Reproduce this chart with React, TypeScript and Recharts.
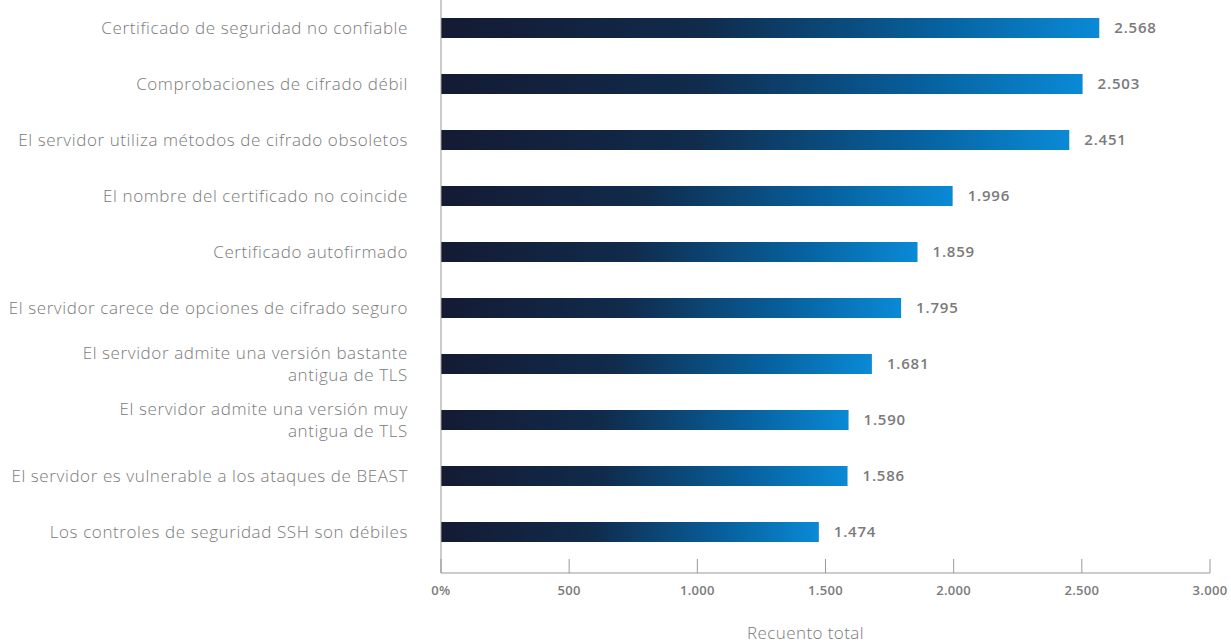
import { Bar, BarChart, LabelList, XAxis, YAxis } from 'recharts'

const categories = [
  'Certificado de seguridad no confiable',
  'Comprobaciones de cifrado débil',
  'El servidor utiliza métodos de cifrado obsoletos',
  'El nombre del certificado no coincide',
  'Certificado autofirmado',
  'El servidor carece de opciones de cifrado seguro',
  'El servidor admite una versión bastante|antigua de TLS',
  'El servidor admite una versión muy|antigua de TLS',
  'El servidor es vulnerable a los ataques de BEAST',
  'Los controles de seguridad SSH son débiles',
]

const totals = [2568, 2503, 2451, 1996, 1859, 1795, 1681, 1590, 1586, 1474]

const xTicks = [0, 500, 1000, 1500, 2000, 2500, 3000]

const data = categories.map((name, i) => ({ name, total: totals[i] }))

const fmt = (n: number) => String(n).replace(/\B(?=(\d{3})+(?!\d))/g, '.')

const grey = '#7a7a7a'
const labelFont = '"Open Sans", Lato, sans-serif'

const CategoryTick = ({ x, y, payload }: any) => {
  const lines = String(payload.value).split('|')
  const start = -((lines.length - 1) * 22) / 2
  return (
    <text
      x={x}
      y={y}
      textAnchor="end"
      fill={grey}
      fontFamily={labelFont}
      fontSize={17}
      fontWeight={300}
      letterSpacing={0.6}
    >
      {lines.map((line, i) => (
        <tspan key={i} x={x} dy={i === 0 ? start + 6 : 22}>
          {line}
        </tspan>
      ))}
    </text>
  )
}

export default function App() {
  return (
    <div style={{ position: 'absolute', left: 0, top: 0, background: '#fff' }}>
      <BarChart
        width={1231}
        height={644}
        data={data}
        layout="vertical"
        margin={{ top: 0, right: 21, bottom: 0, left: 0 }}
        barSize={20}
      >
        <defs>
          <linearGradient id="barFill" x1="0" y1="0" x2="1" y2="0">
            <stop offset="0%" stopColor="#141b33" />
            <stop offset="40%" stopColor="#102b4c" />
            <stop offset="75%" stopColor="#07609d" />
            <stop offset="100%" stopColor="#0a8ad6" />
          </linearGradient>
        </defs>
        <XAxis
          type="number"
          domain={[0, 3000]}
          ticks={xTicks}
          interval={0}
          tickFormatter={(v: number) => (v === 0 ? '0%' : fmt(v))}
          axisLine={{ stroke: '#999' }}
          tickLine={{ stroke: '#999' }}
          tickSize={-14}
          tickMargin={27}
          height={71}
          tick={{ fill: grey, fontSize: 13, fontWeight: 600, fontFamily: labelFont, letterSpacing: 0.3 }}
          label={{
            value: 'Recuento total',
            position: 'insideBottom',
            offset: 5,
            dx: -20,
            fill: grey,
            fontSize: 17,
            fontWeight: 300,
            fontFamily: labelFont,
            letterSpacing: 0.4,
          }}
        />
        <YAxis
          type="category"
          dataKey="name"
          width={441}
          axisLine={{ stroke: '#999' }}
          tickLine={false}
          tickSize={0}
          tickMargin={33}
          padding={{ top: 0, bottom: 13 }}
          tick={<CategoryTick />}
          interval={0}
        />
        <Bar dataKey="total" fill="url(#barFill)" isAnimationActive={false}>
          <LabelList
            dataKey="total"
            position="right"
            offset={15}
            formatter={(v: any) => fmt(Number(v))}
            fill={grey}
            fontSize={15}
            fontWeight={600}
            fontFamily={labelFont}
            letterSpacing={0.8}
          />
        </Bar>
      </BarChart>
    </div>
  )
}
